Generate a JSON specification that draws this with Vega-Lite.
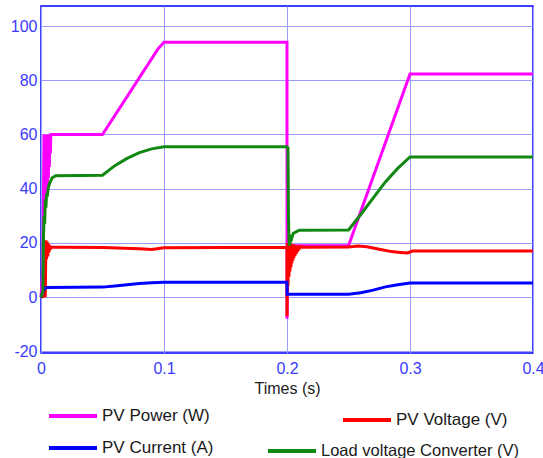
{
 "$schema": "https://vega.github.io/schema/vega-lite/v6.json",
 "width": 492,
 "height": 347,
 "autosize": {"type": "none"},
 "padding": {"left": 41, "top": 6, "right": 10, "bottom": 105},
 "background": "white",
 "config": {
  "view": {"stroke": "#0000ff", "strokeWidth": 1.5},
  "font": "Liberation Sans",
  "axis": {"grid": true, "gridColor": "#9a9aff", "gridWidth": 1, "ticks": false, "tickSize": 0, "domain": false, "labelColor": "#3a3aff", "labelFontSize": 16, "labelFont": "Liberation Sans", "titleFont": "Liberation Sans", "titleFontWeight": "normal", "titleColor": "#222222", "titleFontSize": 16, "labelOverlap": false},
  "legend": {"symbolType": "stroke", "symbolSize": 2304, "symbolStrokeWidth": 4, "labelFontSize": 17, "labelFont": "Liberation Sans", "labelColor": "#1a1a1a", "labelOffset": 3, "labelLimit": 400, "padding": 0, "title": null}
 },
 "data": {"values": [
  {"s":"P","t":0,"v":0},{"s":"P","t":0.0015,"v":10},{"s":"P","t":0.002,"v":36},{"s":"P","t":0.0024,"v":60},{"s":"P","t":0.0028,"v":36},{"s":"P","t":0.0032,"v":60},{"s":"P","t":0.0036,"v":37},{"s":"P","t":0.004,"v":60},{"s":"P","t":0.0044,"v":39},{"s":"P","t":0.0048,"v":60},{"s":"P","t":0.0052,"v":41},{"s":"P","t":0.0056,"v":60},{"s":"P","t":0.006,"v":44},{"s":"P","t":0.0064,"v":60},{"s":"P","t":0.0068,"v":48},{"s":"P","t":0.0072,"v":60},{"s":"P","t":0.0076,"v":53},{"s":"P","t":0.008,"v":60},{"s":"P","t":0.03,"v":60},{"s":"P","t":0.05,"v":60},{"s":"P","t":0.095,"v":91.5},{"s":"P","t":0.1,"v":94},{"s":"P","t":0.2,"v":94},{"s":"P","t":0.20002,"v":-8},{"s":"P","t":0.2008,"v":19},{"s":"P","t":0.25,"v":19},{"s":"P","t":0.3,"v":82.3},{"s":"P","t":0.4,"v":82.3},
  {"s":"V","t":0,"v":0},{"s":"V","t":0.0035,"v":0.5},{"s":"V","t":0.004,"v":21},{"s":"V","t":0.0045,"v":14},{"s":"V","t":0.005,"v":20.5},{"s":"V","t":0.0055,"v":15},{"s":"V","t":0.006,"v":19.8},{"s":"V","t":0.0065,"v":16.5},{"s":"V","t":0.007,"v":19.2},{"s":"V","t":0.0075,"v":17.5},{"s":"V","t":0.008,"v":18.5},{"s":"V","t":0.02,"v":18.4},{"s":"V","t":0.05,"v":18.3},{"s":"V","t":0.08,"v":17.9},{"s":"V","t":0.09,"v":17.6},{"s":"V","t":0.1,"v":18.2},{"s":"V","t":0.15,"v":18.3},{"s":"V","t":0.2,"v":18.3},{"s":"V","t":0.20002,"v":-7},{"s":"V","t":0.2004,"v":20},{"s":"V","t":0.2008,"v":4},{"s":"V","t":0.2012,"v":20},{"s":"V","t":0.2016,"v":7.5},{"s":"V","t":0.202,"v":19.8},{"s":"V","t":0.2024,"v":9.5},{"s":"V","t":0.2028,"v":19.8},{"s":"V","t":0.2032,"v":11},{"s":"V","t":0.2036,"v":19.6},{"s":"V","t":0.204,"v":12.5},{"s":"V","t":0.2044,"v":19.5},{"s":"V","t":0.2048,"v":13.5},{"s":"V","t":0.2052,"v":19.4},{"s":"V","t":0.2056,"v":14.5},{"s":"V","t":0.206,"v":19.3},{"s":"V","t":0.2065,"v":15.2},{"s":"V","t":0.207,"v":19.2},{"s":"V","t":0.2075,"v":16},{"s":"V","t":0.208,"v":19.1},{"s":"V","t":0.2085,"v":16.7},{"s":"V","t":0.209,"v":19},{"s":"V","t":0.2095,"v":17.3},{"s":"V","t":0.21,"v":18.9},{"s":"V","t":0.2105,"v":17.8},{"s":"V","t":0.211,"v":18.7},{"s":"V","t":0.213,"v":18.4},{"s":"V","t":0.25,"v":18.5},{"s":"V","t":0.258,"v":18.9},{"s":"V","t":0.265,"v":18.6},{"s":"V","t":0.275,"v":17.7},{"s":"V","t":0.285,"v":16.8},{"s":"V","t":0.292,"v":16.5},{"s":"V","t":0.298,"v":16.3},{"s":"V","t":0.302,"v":17},{"s":"V","t":0.4,"v":17},
  {"s":"I","t":0,"v":0},{"s":"I","t":0.002,"v":2.5},{"s":"I","t":0.003,"v":3.3},{"s":"I","t":0.005,"v":3.6},{"s":"I","t":0.05,"v":3.7},{"s":"I","t":0.06,"v":4.1},{"s":"I","t":0.07,"v":4.6},{"s":"I","t":0.08,"v":5.0},{"s":"I","t":0.09,"v":5.3},{"s":"I","t":0.1,"v":5.5},{"s":"I","t":0.2,"v":5.5},{"s":"I","t":0.2001,"v":1.1},{"s":"I","t":0.25,"v":1.1},{"s":"I","t":0.26,"v":1.6},{"s":"I","t":0.27,"v":2.6},{"s":"I","t":0.28,"v":3.8},{"s":"I","t":0.29,"v":4.6},{"s":"I","t":0.3,"v":5.2},{"s":"I","t":0.4,"v":5.2},
  {"s":"L","t":0,"v":0},{"s":"L","t":0.0015,"v":2},{"s":"L","t":0.002,"v":22},{"s":"L","t":0.0025,"v":30},{"s":"L","t":0.003,"v":27},{"s":"L","t":0.0035,"v":36},{"s":"L","t":0.004,"v":33},{"s":"L","t":0.0045,"v":38},{"s":"L","t":0.005,"v":37},{"s":"L","t":0.006,"v":40.5},{"s":"L","t":0.007,"v":42},{"s":"L","t":0.009,"v":44},{"s":"L","t":0.012,"v":44.8},{"s":"L","t":0.05,"v":45},{"s":"L","t":0.06,"v":48.5},{"s":"L","t":0.07,"v":51.2},{"s":"L","t":0.08,"v":53.3},{"s":"L","t":0.09,"v":54.7},{"s":"L","t":0.1,"v":55.5},{"s":"L","t":0.2,"v":55.5},{"s":"L","t":0.2008,"v":55},{"s":"L","t":0.2012,"v":30},{"s":"L","t":0.2016,"v":21},{"s":"L","t":0.202,"v":19},{"s":"L","t":0.2025,"v":22},{"s":"L","t":0.203,"v":20.5},{"s":"L","t":0.2035,"v":23},{"s":"L","t":0.204,"v":22},{"s":"L","t":0.205,"v":23.5},{"s":"L","t":0.207,"v":24},{"s":"L","t":0.21,"v":24.7},{"s":"L","t":0.25,"v":24.8},{"s":"L","t":0.26,"v":30.5},{"s":"L","t":0.27,"v":36.5},{"s":"L","t":0.28,"v":42.5},{"s":"L","t":0.29,"v":47.5},{"s":"L","t":0.3,"v":51.7},{"s":"L","t":0.4,"v":51.7}
 ]},
 "encoding": {
  "x": {"field": "t", "type": "quantitative", "scale": {"domain": [0, 0.4], "nice": false, "zero": false},
        "axis": {"values": [0, 0.1, 0.2, 0.3, 0.4], "format": "~g", "title": "Times (s)", "labelPadding": 7, "titlePadding": 4, "labelFlush": false}},
  "y": {"field": "v", "type": "quantitative", "scale": {"domain": [-20.6, 107.4], "nice": false, "zero": false},
        "axis": {"values": [-20, 0, 20, 40, 60, 80, 100], "title": null, "labelPadding": 4, "labelExpr": "datum.value < 0 ? '-' + abs(datum.value) : datum.label"}}
 },
 "layer": [
  {"transform": [{"filter": "datum.s == 'P'"}], "mark": {"type": "line", "strokeWidth": 3},
   "encoding": {"color": {"field": "s", "type": "nominal", "scale": {"domain": ["P"], "range": ["#ff00ff"]}, "legend": {"orient": "none", "legendX": 6, "legendY": 384, "labelExpr": "'PV Power (W)'", "title": null}}}},
  {"transform": [{"filter": "datum.s == 'V'"}], "mark": {"type": "line", "strokeWidth": 3},
   "encoding": {"color": {"field": "s", "type": "nominal", "scale": {"domain": ["V"], "range": ["#ff0000"]}, "legend": {"orient": "none", "legendX": 300, "legendY": 388, "labelExpr": "'PV Voltage (V)'", "title": null}}}},
  {"transform": [{"filter": "datum.s == 'I'"}], "mark": {"type": "line", "strokeWidth": 3},
   "encoding": {"color": {"field": "s", "type": "nominal", "scale": {"domain": ["I"], "range": ["#0000ff"]}, "legend": {"orient": "none", "legendX": 6, "legendY": 416, "labelExpr": "'PV Current (A)'", "title": null}}}},
  {"transform": [{"filter": "datum.s == 'L'"}], "mark": {"type": "line", "strokeWidth": 3},
   "encoding": {"color": {"field": "s", "type": "nominal", "scale": {"domain": ["L"], "range": ["#118811"]}, "legend": {"orient": "none", "legendX": 225, "legendY": 419, "labelExpr": "'Load voltage Converter (V)'", "title": null, "labelFontSize": 16.5}}}}
 ],
 "resolve": {"scale": {"color": "independent"}}
}
